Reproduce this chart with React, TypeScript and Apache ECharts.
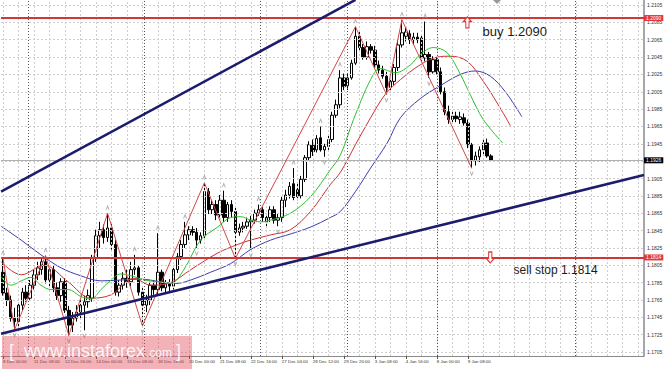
import React, { useEffect, useRef } from 'react';
import * as echarts from 'echarts';

// ---------- axes ----------
const SLOTS = 166; // bar slots incl. the empty shift area on the right
const LABEL_EVERY = 8;
const X_LABELS = ['8 Dec 00:00', '11 Dec 08:00', '12 Dec 16:00', '14 Dec 00:00', '15 Dec 08:00', '18 Dec 16:00', '20 Dec 00:00', '21 Dec 08:00', '22 Dec 16:00', '27 Dec 04:00', '28 Dec 12:00', '29 Dec 20:00', '3 Jan 08:00', '4 Jan 16:00', '8 Jan 00:00', '9 Jan 08:00'];
const Y_TICK_LABELS = ['1.2105', '1.2085', '1.2065', '1.2045', '1.2025', '1.2005', '1.1985', '1.1965', '1.1945', '1.1925', '1.1905', '1.1885', '1.1865', '1.1845', '1.1825', '1.1805', '1.1785', '1.1765', '1.1745', '1.1725', '1.1705'];
const HIDDEN_Y_LABELS = ['1.1925'];
const Y_MIN = 1.17004;
const Y_MAX = 1.21108;
const GRID_EVERY = 4;
const SEPARATORS = [6.5, 36.4, 66.3, 89, 112, 147.7];

// ---------- H4 candles ----------
const opens = [1.1797, 1.1773, 1.1765, 1.1744, 1.1740, 1.1759, 1.1774, 1.1767, 1.1782, 1.1794,
  1.1800, 1.1809, 1.1788, 1.1800, 1.1779, 1.1770, 1.1786, 1.1753, 1.1736, 1.1744,
  1.1751, 1.1759, 1.1763, 1.1767, 1.1813, 1.1839, 1.1846, 1.1837, 1.1848, 1.1829,
  1.1774, 1.1782, 1.1790, 1.1786, 1.1800, 1.1802, 1.1774, 1.1759, 1.1765, 1.1782,
  1.1777, 1.1797, 1.1779, 1.1784, 1.1781, 1.1800, 1.1815, 1.1829, 1.1840, 1.1846,
  1.1843, 1.1834, 1.1839, 1.1890, 1.1869, 1.1875, 1.1863, 1.1880, 1.1860, 1.1875,
  1.1867, 1.1843, 1.1848, 1.1850, 1.1855, 1.1857, 1.1865, 1.1869, 1.1855, 1.1860,
  1.1869, 1.1857, 1.1860, 1.1880, 1.1886, 1.1899, 1.1892, 1.1885, 1.1904, 1.1929,
  1.1943, 1.1938, 1.1952, 1.1938, 1.1942, 1.1950, 1.1978, 1.1990, 1.2021, 1.2012,
  1.2021, 1.2038, 1.2069, 1.2056, 1.2045, 1.2057, 1.2053, 1.2036, 1.2030, 1.2023,
  1.2010, 1.2017, 1.2033, 1.2059, 1.2069, 1.2072, 1.2065, 1.2068, 1.2067, 1.2044,
  1.2048, 1.2028, 1.2042, 1.2028, 1.2005, 1.1982, 1.1973, 1.1977, 1.1973, 1.1975,
  1.1969, 1.1944, 1.1926, 1.1930, 1.1938, 1.1946, 1.1931];
const closes = [1.1773, 1.1765, 1.1744, 1.1740, 1.1759, 1.1774, 1.1767, 1.1782, 1.1794, 1.1802,
  1.1809, 1.1788, 1.1800, 1.1779, 1.1770, 1.1786, 1.1753, 1.1736, 1.1744, 1.1751,
  1.1759, 1.1763, 1.1770, 1.1813, 1.1839, 1.1846, 1.1837, 1.1848, 1.1829, 1.1774,
  1.1782, 1.1790, 1.1786, 1.1800, 1.1802, 1.1774, 1.1759, 1.1765, 1.1782, 1.1777,
  1.1797, 1.1779, 1.1784, 1.1781, 1.1800, 1.1815, 1.1829, 1.1840, 1.1846, 1.1843,
  1.1834, 1.1839, 1.1890, 1.1869, 1.1875, 1.1863, 1.1880, 1.1860, 1.1875, 1.1867,
  1.1843, 1.1848, 1.1850, 1.1855, 1.1857, 1.1865, 1.1869, 1.1860, 1.1860, 1.1869,
  1.1857, 1.1860, 1.1880, 1.1886, 1.1896, 1.1883, 1.1884, 1.1904, 1.1929, 1.1944,
  1.1936, 1.1951, 1.1938, 1.1942, 1.1950, 1.1978, 1.1990, 1.2021, 1.2011, 1.2021,
  1.2038, 1.2069, 1.2056, 1.2045, 1.2057, 1.2053, 1.2036, 1.2030, 1.2023, 1.2010,
  1.2017, 1.2033, 1.2059, 1.2073, 1.2074, 1.2065, 1.2068, 1.2065, 1.2044, 1.2048,
  1.2028, 1.2042, 1.2028, 1.2005, 1.1982, 1.1973, 1.1977, 1.1974, 1.1976, 1.1969,
  1.1944, 1.1926, 1.1931, 1.1938, 1.1946, 1.1931, 1.1926];
const highs = [1.1813, 1.1779, 1.1770, 1.1756, 1.1762, 1.1779, 1.1782, 1.1788, 1.1800, 1.1809,
  1.1813, 1.1816, 1.1804, 1.1805, 1.1785, 1.1790, 1.1790, 1.1758, 1.1751, 1.1759,
  1.1765, 1.1770, 1.1777, 1.1817, 1.1846, 1.1855, 1.1852, 1.1865, 1.1853, 1.1834,
  1.1788, 1.1797, 1.1800, 1.1809, 1.1817, 1.1805, 1.1779, 1.1771, 1.1786, 1.1788,
  1.1842, 1.1800, 1.1788, 1.1789, 1.1804, 1.1819, 1.1834, 1.1855, 1.1850, 1.1850,
  1.1848, 1.1843, 1.1900, 1.1894, 1.1880, 1.1880, 1.1886, 1.1891, 1.1878, 1.1880,
  1.1871, 1.1853, 1.1855, 1.1860, 1.1862, 1.1869, 1.1875, 1.1872, 1.1864, 1.1873,
  1.1873, 1.1864, 1.1884, 1.1892, 1.1901, 1.1917, 1.1901, 1.1908, 1.1932, 1.1948,
  1.1950, 1.1955, 1.1965, 1.1945, 1.1954, 1.1982, 1.1996, 1.2030, 1.2026, 1.2026,
  1.2042, 1.2080, 1.2076, 1.2060, 1.2063, 1.2060, 1.2058, 1.2041, 1.2035, 1.2028,
  1.2020, 1.2037, 1.2065, 1.2088, 1.2079, 1.2076, 1.2073, 1.2073, 1.2071, 1.2086,
  1.2051, 1.2046, 1.2045, 1.2033, 1.2010, 1.1989, 1.1982, 1.1982, 1.1982, 1.1980,
  1.1973, 1.1946, 1.1936, 1.1942, 1.1950, 1.1951, 1.1933];
const lows = [1.1770, 1.1758, 1.1740, 1.1731, 1.1735, 1.1753, 1.1763, 1.1765, 1.1777, 1.1788,
  1.1794, 1.1784, 1.1779, 1.1774, 1.1765, 1.1763, 1.1750, 1.1724, 1.1728, 1.1740,
  1.1744, 1.1730, 1.1756, 1.1763, 1.1809, 1.1825, 1.1830, 1.1832, 1.1823, 1.1770,
  1.1769, 1.1777, 1.1779, 1.1781, 1.1794, 1.1770, 1.1735, 1.1751, 1.1759, 1.1771,
  1.1772, 1.1775, 1.1774, 1.1774, 1.1777, 1.1796, 1.1811, 1.1825, 1.1834, 1.1839,
  1.1825, 1.1830, 1.1834, 1.1864, 1.1864, 1.1857, 1.1860, 1.1855, 1.1855, 1.1860,
  1.1813, 1.1839, 1.1843, 1.1847, 1.1823, 1.1853, 1.1862, 1.1855, 1.1850, 1.1855,
  1.1853, 1.1850, 1.1855, 1.1872, 1.1882, 1.1880, 1.1880, 1.1882, 1.1901, 1.1926,
  1.1931, 1.1935, 1.1936, 1.1930, 1.1938, 1.1947, 1.1975, 1.1986, 1.2007, 1.2007,
  1.2019, 1.2036, 1.2053, 1.2042, 1.2042, 1.2049, 1.2033, 1.2026, 1.2020, 1.2002,
  1.2005, 1.2013, 1.2029, 1.2056, 1.2063, 1.2060, 1.2059, 1.2061, 1.2040, 1.2040,
  1.2021, 1.2026, 1.2025, 1.2002, 1.1978, 1.1968, 1.1968, 1.1970, 1.1968, 1.1966,
  1.1940, 1.1917, 1.1920, 1.1924, 1.1933, 1.1929, 1.1924];

// ---------- indicators ----------
const jaw = [[-0.5, 1.1850], [4.7, 1.1834], [9.8, 1.1817], [15, 1.1802], [20, 1.1793], [25.3, 1.1787], [30.4, 1.1788], [35.6, 1.1789], [40.7, 1.1786], [44.6, 1.1784], [48.5, 1.1788], [53.6, 1.1797], [58.8, 1.1807], [63.9, 1.1823], [69.1, 1.1834], [74.2, 1.1841], [79.4, 1.1849], [84.5, 1.1860], [87.1, 1.1867], [91, 1.1890], [94.9, 1.1917], [99.2, 1.1946], [102.6, 1.1975], [107.7, 1.1997], [112.9, 1.2012], [118.1, 1.2025], [121.9, 1.2029], [125.8, 1.2023], [129.7, 1.2005], [134, 1.1976]];
const teeth = [[-0.5, 1.1809], [4.7, 1.1794], [10.6, 1.1805], [16.8, 1.1786], [22.7, 1.1767], [27.9, 1.1771], [33.8, 1.1790], [38.2, 1.1782], [43.3, 1.1785], [48.5, 1.1800], [55.4, 1.1819], [60.6, 1.1829], [63.9, 1.1834], [69.1, 1.1840], [74.2, 1.1846], [79.4, 1.1867], [84.5, 1.1898], [87.1, 1.1912], [91, 1.1944], [94.9, 1.1975], [98.7, 1.2002], [102.6, 1.2019], [107.7, 1.2036], [112.1, 1.2045], [115.5, 1.2046], [119.9, 1.2040], [124, 1.2017], [127.6, 1.1992], [131, 1.1966]];
const lips = [[-0.5, 1.1792], [2.1, 1.1782], [4.7, 1.1787], [7.2, 1.1791], [9.8, 1.1782], [12.4, 1.1777], [16.8, 1.1777], [20.1, 1.1769], [22.7, 1.1766], [25.3, 1.1777], [27.9, 1.1788], [30.4, 1.1795], [33.8, 1.1792], [36.4, 1.1788], [40, 1.1786], [43.3, 1.1784], [46.7, 1.1800], [51, 1.1834], [55.4, 1.1849], [58.8, 1.1860], [61.4, 1.1861], [63.9, 1.1857], [66.5, 1.1855], [69.1, 1.1857], [74.2, 1.1865], [79.4, 1.1884], [84.5, 1.1915], [87.1, 1.1932], [90.5, 1.1973], [94.9, 1.2019], [97.4, 1.2032], [101.3, 1.2027], [105.2, 1.2036], [107.7, 1.2048], [111.1, 1.2056], [114.7, 1.2050], [118.1, 1.2025], [120.6, 1.2002], [124, 1.1973], [129, 1.1946]];
const ZIGZAG = [[0, 'H'], [3, 'L'], [11, 'H'], [17, 'L'], [27, 'H'], [36, 'L'], [52, 'H'], [60, 'L'], [91, 'H'], [99, 'L'], [103, 'H'], [121, 'L']];
const FRACTAL_UP = [0, 11, 27, 34, 40, 47, 52, 57, 66, 75, 82, 87, 91, 103, 109];
const FRACTAL_DOWN = [3, 17, 21, 36, 50, 60, 64, 71, 83, 99, 110, 121];

// ---------- drawn objects ----------
const upperTrend = [[-0.5, 1.1890], [91, 1.2111]];
const lowerTrend = [[-0.5, 1.1726], [165.5, 1.1909]];
const BUY_LEVEL = 1.2090;
const SELL_STOP_LEVEL = 1.1814;
const LAST_PRICE = 1.1926;
const BUY_TEXT = 'buy 1.2090';
const SELL_TEXT = 'sell stop 1.1814';

const FONT = 'Liberation Sans';
const ARROW = 'path://M5,0 L10,5 L7,5 L7,12 L3,12 L3,5 L0,5 Z';
const FRACTAL = 'path://M0,10 L5,0 L10,10 L7.5,10 L5,5 L2.5,10 Z';

function buildOption() {
  const slotNames = Array.from({ length: SLOTS }, (_, i) => String(i));
  const showLabel = (index: number) => index % LABEL_EVERY === 0 && index / LABEL_EVERY < X_LABELS.length;
  const candleData = opens.map((o, i) => [o, closes[i], lows[i], highs[i]]);
  const zigzagData = ZIGZAG.map(([i, t]) => [i as number, t === 'H' ? highs[i as number] : lows[i as number]]);
  const xGrid: number[] = [];
  for (let k = 0; k < SLOTS; k += GRID_EVERY) xGrid.push(k);

  const hidden = {
    type: 'line', xAxisIndex: 1, yAxisIndex: 0, data: [[0, LAST_PRICE]], symbol: 'none',
    lineStyle: { opacity: 0 }, silent: true, animation: false,
  };
  const ml = { silent: true, symbol: ['none', 'none'], animation: false, precision: 6 };

  const maLine = (name: string, data: number[][], color: string) => ({
    name, type: 'line', xAxisIndex: 1, yAxisIndex: 0, data, smooth: 0.35, symbol: 'none', silent: true,
    lineStyle: { color, width: 1 }, z: 4,
  });

  return {
    animation: false,
    backgroundColor: '#ffffff',
    grid: { left: 0, right: 21, top: 0, bottom: 13, containLabel: false },
    xAxis: [
      {
        type: 'category', data: slotNames, boundaryGap: true,
        axisLine: { show: true, onZero: false, lineStyle: { color: '#8a8a8a', width: 1 } },
        axisTick: { show: true, alignWithLabel: true, interval: showLabel, length: 3, lineStyle: { color: '#555' } },
        axisLabel: {
          show: true, interval: showLabel, align: 'left', margin: 3, fontSize: 4.4, color: '#333', fontFamily: FONT,
          formatter: (_v: string, index: number) => X_LABELS[index / LABEL_EVERY] ?? '',
        },
        splitLine: { show: false },
      },
      { type: 'value', min: -0.5, max: SLOTS - 0.5, show: false },
    ],
    yAxis: [
      {
        type: 'value', position: 'right', min: Y_MIN, max: Y_MAX, scale: true,
        axisLine: { show: true, onZero: false, lineStyle: { color: '#8a8a8a', width: 1.5 } },
        axisTick: { show: false }, axisLabel: { show: false }, splitLine: { show: false },
      },
    ],
    series: [
      {
        ...hidden, name: 'hgrid', z: 1,
        markLine: {
          ...ml,
          lineStyle: { color: '#cdcdcd', type: [2, 2], width: 1 },
          label: { show: true, position: 'end', distance: 3, formatter: '{b}', fontSize: 5, color: '#333', fontFamily: FONT },
          data: Y_TICK_LABELS.map((s) => ({ yAxis: parseFloat(s), name: HIDDEN_Y_LABELS.includes(s) ? '' : s })),
        },
      },
      {
        ...hidden, name: 'vgrid', z: 1,
        markLine: {
          ...ml,
          lineStyle: { color: '#cdcdcd', type: [2, 2], width: 1 },
          label: { show: false },
          data: xGrid.map((v) => ({ xAxis: v })),
        },
      },
      {
        ...hidden, name: 'separators', z: 1,
        markLine: {
          ...ml,
          lineStyle: { color: '#555555', type: [1, 2], width: 1 },
          label: { show: false },
          data: SEPARATORS.map((v) => ({ xAxis: v })),
        },
      },
      {
        ...hidden, name: 'bid', z: 2,
        markLine: {
          ...ml,
          data: [{
            yAxis: LAST_PRICE, lineStyle: { color: '#b0b0b0', type: 'solid', width: 1 },
            label: { show: true, position: 'end', distance: 0, formatter: LAST_PRICE.toFixed(4), fontSize: 5, color: '#fff', backgroundColor: '#000', padding: [1, 2, 0, 2], fontFamily: FONT },
          }],
        },
      },
      {
        name: 'EURUSD', type: 'candlestick', xAxisIndex: 0, yAxisIndex: 0, data: candleData, barWidth: 3, silent: true, z: 3,
        itemStyle: { color: '#ffffff', color0: '#000000', borderColor: '#000000', borderColor0: '#000000', borderWidth: 1 },
      },
      maLine('Jaw', jaw, '#3c3cb4'),
      maLine('Teeth', teeth, '#cc3030'),
      maLine('Lips', lips, '#2cc02c'),
      {
        name: 'ZigZag', type: 'line', xAxisIndex: 1, yAxisIndex: 0, data: zigzagData, symbol: 'none', silent: true,
        lineStyle: { color: '#d04848', width: 1 }, z: 5,
      },
      {
        name: 'FractalUp', type: 'scatter', xAxisIndex: 1, yAxisIndex: 0, silent: true, z: 5,
        data: FRACTAL_UP.map((i) => [i, highs[i]]), symbol: FRACTAL, symbolSize: [4, 5], symbolOffset: [0, -6],
        itemStyle: { color: '#9c9c9c' },
      },
      {
        name: 'FractalDown', type: 'scatter', xAxisIndex: 1, yAxisIndex: 0, silent: true, z: 5,
        data: FRACTAL_DOWN.map((i) => [i, lows[i]]), symbol: FRACTAL, symbolSize: [4, 5], symbolOffset: [0, 6], symbolRotate: 180,
        itemStyle: { color: '#9c9c9c' },
      },
      {
        name: 'UpperTrend', type: 'line', xAxisIndex: 1, yAxisIndex: 0, data: upperTrend, symbol: 'none', silent: true, clip: true,
        lineStyle: { color: '#1c1c6c', width: 2.5 }, z: 6,
      },
      {
        name: 'LowerTrend', type: 'line', xAxisIndex: 1, yAxisIndex: 0, data: lowerTrend, symbol: 'none', silent: true, clip: true,
        lineStyle: { color: '#1c1c6c', width: 2.5 }, z: 6,
      },
      {
        ...hidden, name: 'levels', z: 7,
        markLine: {
          ...ml,
          data: [BUY_LEVEL, SELL_STOP_LEVEL].map((v) => ({
            yAxis: v, lineStyle: { color: '#d23636', type: 'solid', width: 2 },
            label: { show: true, position: 'end', distance: 0, formatter: v.toFixed(4), fontSize: 5, color: '#fff', backgroundColor: '#e23a3a', padding: [1, 2, 0, 2], fontFamily: FONT },
          })),
        },
        markPoint: {
          silent: true, animation: false,
          data: [
            { coord: [119.9, 1.2085], symbol: ARROW, symbolSize: [8, 11], itemStyle: { color: '#ffffff', borderColor: '#e03a3a', borderWidth: 1.2 }, label: { show: false } },
            { coord: [125.8, 1.1814], symbol: ARROW, symbolSize: [8, 11], symbolRotate: 180, itemStyle: { color: '#ffffff', borderColor: '#e03a3a', borderWidth: 1.2 }, label: { show: false } },
            { coord: [123.7, 1.2075], symbol: 'circle', symbolSize: 1, itemStyle: { color: 'rgba(0,0,0,0)' }, label: { show: true, position: 'right', distance: 0, formatter: BUY_TEXT, fontSize: 13, color: '#1a1a1a', fontFamily: FONT } },
            { coord: [131.7, 1.1800], symbol: 'circle', symbolSize: 1, itemStyle: { color: 'rgba(0,0,0,0)' }, label: { show: true, position: 'right', distance: 0, formatter: SELL_TEXT, fontSize: 12, color: '#1a1a1a', fontFamily: FONT } },
          ],
        },
      },
    ],
    graphic: [
      { type: 'polygon', silent: true, z: 50, shape: { points: [[493, 0], [501, 0], [497, 4]] }, style: { fill: '#9a9a9a' } },
      { type: 'rect', silent: true, z: 100, shape: { x: 2, y: 336, width: 190, height: 33 }, style: { fill: 'rgba(224,72,86,0.42)' } },
      { type: 'text', silent: true, z: 101, x: 9, y: 360, style: { text: '[', fontSize: 18, fontFamily: FONT, fill: 'rgba(255,255,255,0.88)', verticalAlign: 'bottom' } },
      { type: 'text', silent: true, z: 101, x: 24, y: 360, style: { text: 'www.instaforex', fontSize: 18, fontFamily: FONT, fill: 'rgba(255,255,255,0.88)', verticalAlign: 'bottom' } },
      { type: 'text', silent: true, z: 101, x: 146, y: 359, style: { text: '.com', fontSize: 12, fontFamily: FONT, fill: 'rgba(255,255,255,0.88)', verticalAlign: 'bottom' } },
      { type: 'text', silent: true, z: 101, x: 176, y: 360, style: { text: ']', fontSize: 18, fontFamily: FONT, fill: 'rgba(255,255,255,0.88)', verticalAlign: 'bottom' } },
    ],
  };
}

export default function App() {
  const ref = useRef<HTMLDivElement>(null);
  useEffect(() => {
    if (!ref.current) return;
    const chart = echarts.init(ref.current, undefined, { renderer: 'svg' });
    chart.setOption(buildOption() as any);
    return () => chart.dispose();
  }, []);
  return <div ref={ref} style={{ position: 'fixed', left: 0, top: 0, width: 665, height: 369, background: '#ffffff' }} />;
}
